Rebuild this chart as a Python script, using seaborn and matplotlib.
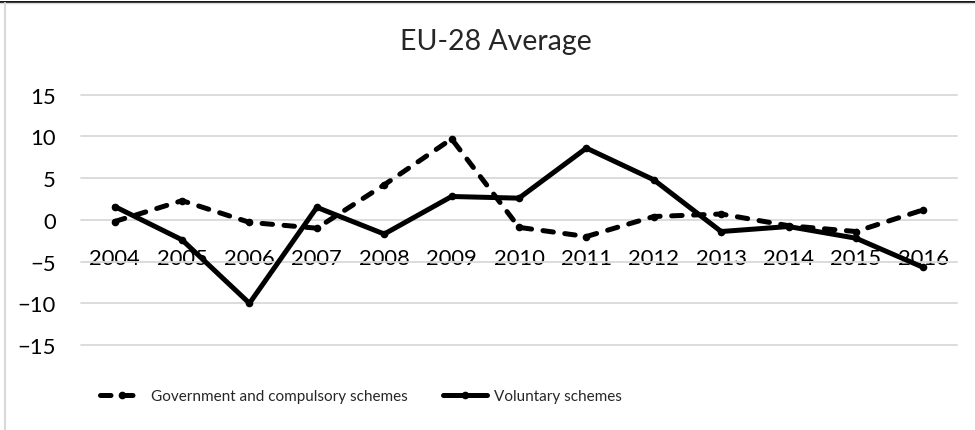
import matplotlib
matplotlib.use("Agg")
import matplotlib.pyplot as plt
from matplotlib.lines import Line2D
import pandas as pd
import seaborn as sns

years = [2004, 2005, 2006, 2007, 2008, 2009, 2010, 2011, 2012, 2013, 2014, 2015, 2016]
government = [-0.2, 2.3, -0.3, -1.0, 4.2, 9.7, -0.9, -2.0, 0.4, 0.7, -0.7, -1.4, 1.2]
voluntary = [1.6, -2.4, -10.0, 1.5, -1.7, 2.8, 2.6, 8.6, 4.8, -1.4, -0.8, -2.2, -5.7]
y_ticks = [-15, -10, -5, 0, 5, 10, 15]
labels = ["Government and compulsory schemes", "Voluntary schemes"]

df = pd.DataFrame({"year": years, "gov": government, "vol": voluntary})

sns.set_theme(style="white")
plt.rcParams["font.family"] = ["Lato", "DejaVu Sans"]

W, H = 975, 431
fig = plt.figure(figsize=(W / 100, H / 100), dpi=100)
ax_left, ax_right = 81, 957
ax_top, ax_bottom = 95.7, 346.0
ax = fig.add_axes([ax_left / W, 1 - ax_bottom / H, (ax_right - ax_left) / W, (ax_bottom - ax_top) / H])

lw = 3.6
dash = (0, (2.1, 2.3))
sns.lineplot(data=df, x="year", y="gov", ax=ax, color="black", linewidth=lw,
             linestyle=dash, dash_capstyle="round", solid_capstyle="round",
             marker="o", markersize=5.5, markeredgewidth=0, zorder=3)
sns.lineplot(data=df, x="year", y="vol", ax=ax, color="black", linewidth=lw,
             solid_capstyle="round", solid_joinstyle="round",
             marker="o", markersize=5.5, markeredgewidth=0, zorder=4)

ax.set_xlim(2003.5, 2016.5)
ax.set_ylim(-15, 15)
ax.set_yticks(y_ticks)
ax.set_xticks(years)
ax.set_xticklabels([str(y) for y in years])
ax.set_xlabel("")
ax.set_ylabel("")

ax.grid(axis="y", color="#D9D9D9", linewidth=1.3, zorder=0)
for gl in ax.get_ygridlines():
    gl.set_clip_on(False)
ax.grid(axis="x", visible=False)
for side in ["top", "right", "left", "bottom"]:
    ax.spines[side].set_visible(False)
ax.spines["bottom"].set_position(("data", 0))

ax.tick_params(axis="y", length=0, pad=18, labelsize=15.8, colors="#000000")
ax.tick_params(axis="x", length=0, pad=20, labelsize=15.8, colors="#000000")

fig.text(496 / W, 1 - 42 / H, "EU-28 Average", ha="center", va="center", fontsize=20.5)

handles = [
    Line2D([], [], color="black", linewidth=lw, linestyle=dash,
           dash_capstyle="round", marker="o", markersize=5.5, markeredgewidth=0),
    Line2D([], [], color="black", linewidth=lw, solid_capstyle="round",
           marker="o", markersize=5.5, markeredgewidth=0),
]
fig.legend(handles, labels, loc="center", bbox_to_anchor=(361 / W, 1 - 397 / H), ncol=2,
           frameon=False, handlelength=2.9, handletextpad=0.45, columnspacing=2.3,
           prop={"family": ["Lato", "DejaVu Sans"], "size": 11})

# outer frame: dark rule along the top, light rule below it and down the left edge
fig.add_artist(Line2D([0, W], [H - 2.5, H - 2.5], transform=None, color="black", linewidth=1.3))
fig.add_artist(Line2D([0, W], [H - 4.2, H - 4.2], transform=None, color="#D9D9D9", linewidth=1.0))
fig.add_artist(Line2D([5, 5], [0, H - 4], transform=None, color="#D9D9D9", linewidth=1.5))

fig.savefig("out.png", dpi=100)
